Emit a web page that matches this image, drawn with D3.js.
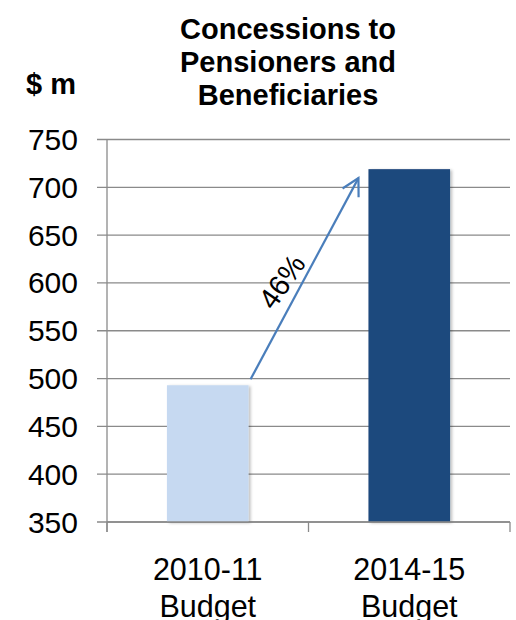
<!DOCTYPE html>
<html>
<head>
<meta charset="utf-8">
<script src="https://cdn.jsdelivr.net/npm/d3@7"></script>
<style>
  body { margin: 0; background: #fff; }
  svg { display: block; font-family: "Liberation Sans", Arial, sans-serif; }
</style>
</head>
<body>
<svg id="chart"></svg>
<script>
// chart data
const categories = [["2010-11", "Budget"], ["2014-15", "Budget"]];
const values = [493, 719];
const barColors = ["#c6d9f1", "#1f497d"];
const yTicks = [350, 400, 450, 500, 550, 600, 650, 700, 750];
const titleLines = ["Concessions to", "Pensioners and", "Beneficiaries"];
const unitLabel = "$ m";

const width = 516;
const height = 620;
const margin = { top: 139.5, right: 6, bottom: 98, left: 107 };

const svg = d3.select("#chart").attr("width", width).attr("height", height);

// shadow for bars
const defs = svg.append("defs");
defs.append("filter")
  .attr("id", "shadow")
  .attr("x", "-10%").attr("y", "-10%").attr("width", "130%").attr("height", "130%")
  .append("feDropShadow")
  .attr("dx", 2).attr("dy", 1).attr("stdDeviation", 1.5)
  .attr("flood-color", "#000").attr("flood-opacity", 0.25);

const xScale = d3.scaleBand()
  .domain(categories.map((d) => d[0]))
  .range([margin.left, width - margin.right])
  .paddingInner(0.595)
  .paddingOuter(0.2975);

const yScale = d3.scaleLinear()
  .domain([350, 750])
  .range([height - margin.bottom, margin.top]);

// gridlines
svg.append("g")
  .selectAll("line")
  .data(yTicks)
  .enter()
  .append("line")
  .attr("x1", margin.left - 10)
  .attr("x2", width - margin.right)
  .attr("y1", (d) => yScale(d))
  .attr("y2", (d) => yScale(d))
  .attr("stroke", "#8a8a8a")
  .attr("stroke-width", 1.3);

// y axis line
svg.append("line")
  .attr("x1", margin.left).attr("x2", margin.left)
  .attr("y1", yScale(750)).attr("y2", yScale(350) + 10)
  .attr("stroke", "#8a8a8a").attr("stroke-width", 1.3);

// y tick labels
svg.append("g")
  .selectAll("text")
  .data(yTicks)
  .enter()
  .append("text")
  .attr("x", 78)
  .attr("y", (d) => yScale(d) + 10.5)
  .attr("text-anchor", "end")
  .attr("font-size", "30px")
  .attr("fill", "#000")
  .text((d) => d);

// x axis ticks (band edges)
const step = xScale.step();
const edges = [margin.left, margin.left + step, margin.left + 2 * step];
svg.append("g")
  .selectAll("line")
  .data(edges)
  .enter()
  .append("line")
  .attr("x1", (d) => d).attr("x2", (d) => d)
  .attr("y1", yScale(350)).attr("y2", yScale(350) + 10)
  .attr("stroke", "#8a8a8a").attr("stroke-width", 1.3);

// bars
svg.append("g")
  .selectAll("rect")
  .data(values)
  .enter()
  .append("rect")
  .attr("x", (d, i) => xScale(categories[i][0]))
  .attr("y", (d) => yScale(d))
  .attr("width", xScale.bandwidth())
  .attr("height", (d) => yScale(350) - yScale(d))
  .attr("fill", (d, i) => barColors[i])
  .attr("filter", "url(#shadow)");

// x axis line on top of bars
svg.append("line")
  .attr("x1", margin.left).attr("x2", width - margin.right)
  .attr("y1", yScale(350)).attr("y2", yScale(350))
  .attr("stroke", "#8a8a8a").attr("stroke-width", 1.3);

// category labels
const catLabels = svg.append("g")
  .selectAll("text")
  .data(categories)
  .enter()
  .append("text")
  .attr("text-anchor", "middle")
  .attr("font-size", "30.5px")
  .attr("fill", "#000");

catLabels.selectAll("tspan")
  .data((d) => d)
  .enter()
  .append("tspan")
  .attr("x", function () {
    const cat = d3.select(this.parentNode).datum()[0];
    return xScale(cat) + xScale.bandwidth() / 2;
  })
  .attr("y", (d, i) => 580 + i * 36.5)
  .text((d) => d);

// growth arrow from bar 1 to bar 2
const x0 = xScale(categories[0][0]) + xScale.bandwidth() + 2;
const y0 = yScale(values[0]) - 6;
const x1 = xScale(categories[1][0]) - 10;
const y1 = yScale(values[1]) + 9;
const arrowColor = "#4a7ebb";

svg.append("line")
  .attr("x1", x0).attr("y1", y0)
  .attr("x2", x1).attr("y2", y1)
  .attr("stroke", arrowColor)
  .attr("stroke-width", 2.2);

// open arrow head
const ang = Math.atan2(y1 - y0, x1 - x0);
const headLen = 19;
const spread = 0.5;
const head = [
  [x1 - headLen * Math.cos(ang - spread), y1 - headLen * Math.sin(ang - spread)],
  [x1, y1],
  [x1 - headLen * Math.cos(ang + spread), y1 - headLen * Math.sin(ang + spread)],
];
svg.append("path")
  .attr("d", d3.line()(head))
  .attr("fill", "none")
  .attr("stroke", arrowColor)
  .attr("stroke-width", 2.2)
  .attr("stroke-linejoin", "miter");

// percentage label
const pct = Math.round((values[1] / values[0] - 1) * 100) + "%";
const mx = x0 + (x1 - x0) * 0.28;
const my = y0 + (y1 - y0) * 0.5;
svg.append("text")
  .attr("transform", `translate(${mx + 1},${my + 3}) rotate(-55)`)
  .attr("text-anchor", "middle")
  .attr("dy", "0.35em")
  .attr("font-size", "29px")
  .attr("fill", "#000")
  .text(pct);

// title
svg.append("g")
  .selectAll("text")
  .data(titleLines)
  .enter()
  .append("text")
  .attr("x", 288)
  .attr("y", (d, i) => 38.5 + i * 33)
  .attr("text-anchor", "middle")
  .attr("font-size", "29px")
  .attr("font-weight", "bold")
  .attr("fill", "#000")
  .text((d) => d);

// unit label
svg.append("text")
  .attr("x", 26)
  .attr("y", 93.5)
  .attr("font-size", "29px")
  .attr("font-weight", "bold")
  .attr("fill", "#000")
  .text(unitLabel);
</script>
</body>
</html>
